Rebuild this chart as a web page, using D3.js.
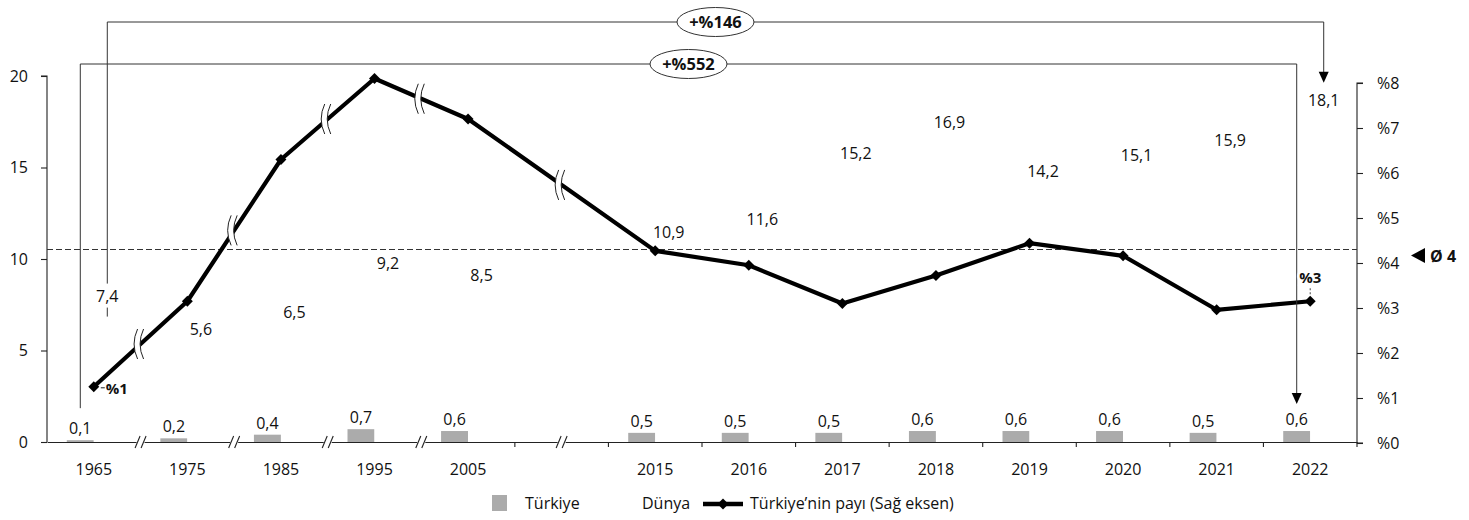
<!DOCTYPE html>
<html><head><meta charset="utf-8">
<script src="https://cdn.jsdelivr.net/npm/d3@7"></script>
<style>
body{margin:0;background:#fff}
svg{display:block}
text{font-family:"Open Sans",sans-serif;fill:#111}
</style>
</head><body>
<svg id="chart" width="1469" height="520"></svg>
<script>
// ---------- DATA ----------
const categories   = ["1965","1975","1985","1995","2005","","2015","2016","2017","2018","2019","2020","2021","2022"];
const turkiye      = [0.1, 0.2, 0.4, 0.7, 0.6, null, 0.5, 0.5, 0.5, 0.6, 0.6, 0.6, 0.5, 0.6];
const dunya        = [7.4, 5.6, 6.5, 9.2, 8.5, null, 10.9, 11.6, 15.2, 16.9, 14.2, 15.1, 15.9, 18.1];
const turkiyeShare = [1.25, 3.15, 6.3, 8.1, 7.2, null, 4.27, 3.95, 3.1, 3.72, 4.44, 4.16, 2.96, 3.15];
const seriesNames  = ["Türkiye", "Dünya"];
const lineName     = "Türkiye’nin payı (Sağ eksen)";
const leftTicks    = [0, 5, 10, 15, 20];
const rightTicks   = [0, 1, 2, 3, 4, 5, 6, 7, 8];
const rightTickLabels = ["%0","%1","%2","%3","%4","%5","%6","%7","%8"];
const shareLabelCategories = ["1965", "2022"];
const shareLabelTexts      = ["%1", "%3"];
const averageShare = 4.3;
const averageLabel = "Ø 4";
const growthFrom   = ["1965", "1965"];
const growthTo     = ["2022", "2022"];
const growthSeries = ["Türkiye", "Dünya"];
const growthLabels = ["+%552", "+%146"];

// ---------- LAYOUT ----------
const svg = d3.select("#chart");
const X0 = 47, X1 = 1357;
const fmt = d3.formatLocale({decimal: ",", thousands: ".", grouping: [3], currency: ["", ""]}).format(".1f");

const x = d3.scaleBand().domain(categories).range([X0, X1]).padding(0);
const x1 = d3.scaleBand().domain(seriesNames).range([0, x.bandwidth()]).paddingInner(0).paddingOuter(0.733);
const yL = d3.scaleLinear().domain([0, 20]).range([442, 76]);
const yR = d3.scaleLinear().domain([0, 8]).range([443, 83]);

const rows = categories.map((c, i) => ({c, i, tr: turkiye[i], dn: dunya[i], sh: turkiyeShare[i]}));
const valid = rows.filter(r => r.c !== "");
const barCenter = (c, s) => x(c) + x1(s) + x1.bandwidth() / 2;

// ---------- BARS ----------
const gBars = svg.append("g");
gBars.selectAll("rect.tr").data(valid).join("rect")
  .attr("x", d => x(d.c) + x1("Türkiye"))
  .attr("width", x1.bandwidth())
  .attr("y", d => yL(d.tr))
  .attr("height", d => yL(0) - yL(d.tr))
  .attr("fill", "#ababab");
gBars.selectAll("rect.dn").data(valid).join("rect")
  .attr("x", d => x(d.c) + x1("Dünya"))
  .attr("width", x1.bandwidth())
  .attr("y", d => yL(d.dn))
  .attr("height", d => yL(0) - yL(d.dn))
  .attr("fill", "#ffffff");

// ---------- AXES ----------
const axL = svg.append("g").attr("transform", `translate(${X0},0)`)
  .call(d3.axisLeft(yL).tickValues(leftTicks).tickSize(6).tickPadding(13));
const axR = svg.append("g").attr("transform", `translate(${X1},0)`)
  .call(d3.axisRight(yR).tickValues(rightTicks).tickSize(6).tickPadding(14)
        .tickFormat((d, i) => rightTickLabels[i]));
const axB = svg.append("g").attr("transform", `translate(0,${yL(0)})`)
  .call(d3.axisBottom(x).tickSize(0).tickPadding(22));
[axL, axR, axB].forEach(g => {
  g.selectAll("path,line").attr("stroke", "#222").attr("stroke-width", 1.1);
  g.selectAll("text").style("font-family", "'Open Sans',sans-serif").style("font-size", "16px").attr("fill", "#111");
});
axR.select(".domain").attr("d", `M6,${yR(0)}H0V${yR(8)}H6`);
axL.select(".domain").attr("d", `M-6,${yL(20)}H0V${yL(0)}`);

// boundary ticks and axis breaks
const gX = svg.append("g");
const yr = c => +c;
function slash(gx, cx, cy) {
  [-3, 3].forEach(o => {
    gx.append("line").attr("x1", cx + o - 2.5).attr("y1", cy + 6).attr("x2", cx + o + 2.5).attr("y2", cy - 6)
      .attr("stroke", "#222").attr("stroke-width", 1.1);
  });
}
for (let i = 1; i <= categories.length; i++) {
  const bx = X0 + i * x.step();
  const a = categories[i - 1], b = categories[i];
  if (a !== "" && b !== undefined && b !== "" && yr(b) - yr(a) > 1) {
    gX.append("rect").attr("x", bx - 4).attr("y", yL(0) - 2).attr("width", 8).attr("height", 4).attr("fill", "#fff");
    slash(gX, bx, yL(0));
  } else {
    gX.append("line").attr("x1", bx).attr("x2", bx).attr("y1", yL(0)).attr("y2", yL(0) + 5)
      .attr("stroke", "#222").attr("stroke-width", 1.1);
  }
}
categories.forEach(c => {
  if (c === "") {
    const cx = x(c) + x.bandwidth() / 2;
    gX.append("rect").attr("x", cx - 4).attr("y", yL(0) - 2).attr("width", 8).attr("height", 4).attr("fill", "#fff");
    slash(gX, cx, yL(0));
  }
});

// ---------- AVERAGE LINE ----------
svg.append("line").attr("x1", X0).attr("x2", X1).attr("y1", yR(averageShare)).attr("y2", yR(averageShare))
  .attr("stroke", "#333").attr("stroke-width", 1).attr("stroke-dasharray", "6,3");
svg.append("path").attr("d", `M1411,${yR(averageShare) + 6} L1425,${yR(averageShare) - 1.5} L1425,${yR(averageShare) + 13.5} Z`).attr("fill", "#000");
svg.append("text").attr("x", 1430).attr("y", yR(averageShare) + 12)
  .style("font-size", "16px").style("font-weight", "bold").text(averageLabel);

// ---------- LINE ----------
const cx = c => x(c) + x.bandwidth() / 2;
const line = d3.line().x(d => cx(d.c)).y(d => yR(d.sh));
svg.append("path").datum(valid).attr("d", line).attr("fill", "none")
  .attr("stroke", "#000").attr("stroke-width", 4.2).attr("stroke-linejoin", "round");

// break marks on line
const gBrk = svg.append("g");
for (let k = 0; k < valid.length - 1; k++) {
  const a = valid[k], b = valid[k + 1];
  if (yr(b.c) - yr(a.c) > 1) {
    const mx = (cx(a.c) + cx(b.c)) / 2, my = (yR(a.sh) + yR(b.sh)) / 2;
    const cL = `M${mx - 3},${my - 15} Q${mx - 10},${my} ${mx - 3},${my + 15}`;
    const cRr = `L${mx + 3},${my + 15} Q${mx - 4},${my} ${mx + 3},${my - 15} Z`;
    gBrk.append("path").attr("d", cL + cRr).attr("fill", "#fff");
    gBrk.append("path").attr("d", cL).attr("fill", "none").attr("stroke", "#222").attr("stroke-width", 1);
    gBrk.append("path").attr("d", `M${mx + 3},${my - 15} Q${mx - 4},${my} ${mx + 3},${my + 15}`)
      .attr("fill", "none").attr("stroke", "#222").attr("stroke-width", 1);
  }
}

const diamond = {draw(ctx, size) { const r = Math.sqrt(size / 2); ctx.moveTo(0, -r); ctx.lineTo(r, 0); ctx.lineTo(0, r); ctx.lineTo(-r, 0); ctx.closePath(); }};
svg.append("g").selectAll("path").data(valid).join("path")
  .attr("transform", d => `translate(${cx(d.c)},${yR(d.sh)})`)
  .attr("d", d3.symbol(diamond, 60)).attr("fill", "#000");

// ---------- DATA LABELS ----------
const gLab = svg.append("g").style("font-size", "16px");
gLab.selectAll("text.tr").data(valid).join("text")
  .attr("x", d => barCenter(d.c, "Türkiye")).attr("y", d => yL(d.tr) - 6)
  .attr("text-anchor", "middle").text(d => fmt(d.tr));

// ---------- GROWTH BRACKETS ----------
const levels = [64, 22];
const gBr = svg.append("g");
growthLabels.forEach((lab, i) => {
  const s = growthSeries[i];
  const vals = s === "Türkiye" ? turkiye : dunya;
  const xa = barCenter(growthFrom[i], s), xb = barCenter(growthTo[i], s);
  const va = vals[categories.indexOf(growthFrom[i])], vb = vals[categories.indexOf(growthTo[i])];
  const ly = levels[i];
  const ya = s === "Türkiye" ? yL(va) - 32 : yL(va) + 10;
  const tip = s === "Türkiye" ? yL(vb) - 27 : yL(vb) - 28;
  gBr.append("path").attr("d", `M${xa},${ya} V${ly} H${xb} V${tip - 10}`)
    .attr("fill", "none").attr("stroke", "#333").attr("stroke-width", 1);
  gBr.append("path").attr("d", `M${xb - 5},${tip - 11} L${xb + 5},${tip - 11} L${xb},${tip} Z`).attr("fill", "#000");
  const mx = (xa + xb) / 2;
  gBr.append("ellipse").attr("cx", mx).attr("cy", ly).attr("rx", 38.5).attr("ry", 14.5)
    .attr("fill", "#fff").attr("stroke", "#333").attr("stroke-width", 1);
  gBr.append("text").attr("x", mx).attr("y", ly + 6).attr("text-anchor", "middle")
    .style("font-size", "16.5px").style("font-weight", "bold").text(lab);
});

// world labels (white box behind so bracket lines break around them)
const gLabD = svg.append("g").style("font-size", "16px");
const dnLabels = gLabD.selectAll("g").data(valid).join("g");
dnLabels.append("text")
  .attr("x", d => barCenter(d.c, "Dünya")).attr("y", d => yL(d.dn) - 5)
  .attr("text-anchor", "middle")
  .text(d => fmt(d.dn));
dnLabels.each(function() {
  const t = d3.select(this).select("text");
  const bb = t.node().getBBox();
  d3.select(this).insert("rect", "text").attr("x", bb.x - 1).attr("y", bb.y - 1)
    .attr("width", bb.width + 2).attr("height", bb.height + 2).attr("fill", "#fff");
});

// share labels
shareLabelCategories.forEach((c, i) => {
  const d = rows[categories.indexOf(c)];
  const px = cx(c), py = yR(d.sh);
  if (i === 0) {
    svg.append("line").attr("x1", px + 7).attr("x2", px + 11).attr("y1", py + 1).attr("y2", py + 1)
      .attr("stroke", "#444").attr("stroke-width", 1.2);
    svg.append("text").attr("x", px + 12).attr("y", py + 7).style("font-size", "15px").style("font-weight", "bold")
      .text(shareLabelTexts[i]);
  } else {
    svg.append("line").attr("x1", px).attr("x2", px).attr("y1", py - 7).attr("y2", py - 13)
      .attr("stroke", "#444").attr("stroke-width", 1).attr("stroke-dasharray", "2,2");
    svg.append("text").attr("x", px).attr("y", py - 18).attr("text-anchor", "middle")
      .style("font-size", "15px").style("font-weight", "bold")
      .attr("stroke", "#fff").attr("stroke-width", 5).attr("paint-order", "stroke")
      .text(shareLabelTexts[i]);
  }
});

// ---------- LEGEND ----------
const gLeg = svg.append("g").style("font-size", "16px");
gLeg.append("rect").attr("x", 492).attr("y", 495).attr("width", 15).attr("height", 16).attr("fill", "#ababab");
gLeg.append("text").attr("x", 525).attr("y", 509).text(seriesNames[0]);
gLeg.append("rect").attr("x", 620).attr("y", 495).attr("width", 15).attr("height", 16).attr("fill", "#fff");
gLeg.append("text").attr("x", 642).attr("y", 509).text(seriesNames[1]);
gLeg.append("line").attr("x1", 703).attr("x2", 743).attr("y1", 504).attr("y2", 504).attr("stroke", "#000").attr("stroke-width", 4.5);
gLeg.append("path").attr("transform", "translate(723,504)").attr("d", d3.symbol(diamond, 60)).attr("fill", "#000");
gLeg.append("text").attr("x", 750).attr("y", 509).text(lineName);
</script>
</body></html>
